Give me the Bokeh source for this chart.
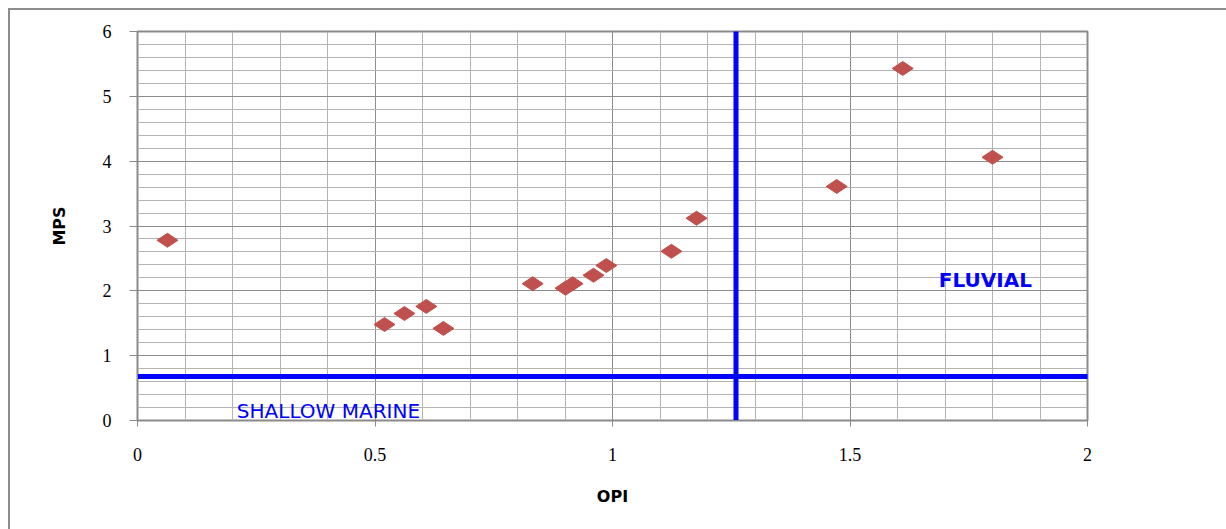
from bokeh.plotting import figure
from bokeh.models import SingleIntervalTicker, FixedTicker
from bokeh.core.properties import value
from bokeh.embed import file_html
from bokeh.resources import INLINE

# OPI / MPS samples
opi = [0.063, 0.52, 0.562, 0.608, 0.644, 0.832, 0.901, 0.916, 0.96, 0.987, 1.124, 1.177, 1.472, 1.611, 1.8]
mps = [2.78, 1.48, 1.65, 1.76, 1.42, 2.11, 2.04, 2.11, 2.24, 2.39, 2.61, 3.12, 3.61, 5.43, 4.06]

# environment boundaries
opi_boundary = 1.26
mps_boundary = 0.68

x_ticks = [0, 0.5, 1, 1.5, 2]
y_ticks = [0, 1, 2, 3, 4, 5, 6]

zone_labels = ["SHALLOW MARINE", "FLUVIAL"]
zone_x = [0.402, 1.785]
zone_y = [0.15, 2.17]

p = figure(width=1218, height=521, x_range=(0, 2), y_range=(0, 6),
           output_backend="svg", toolbar_location=None,
           min_border_left=127, min_border_right=141,
           min_border_top=21, min_border_bottom=111,
           margin=(8, 0, 0, 8))
p.styles = {"border-left": "2px solid #8c8c8c", "border-top": "2px solid #8c8c8c"}
p.background_fill_color = "white"
p.border_fill_color = "white"
p.outline_line_color = "#8a8a8a"
p.outline_line_width = 2

# grid: minor every 0.1 on x, every 0.2 on y
xt = SingleIntervalTicker(interval=0.5, num_minor_ticks=5)
yt = SingleIntervalTicker(interval=1, num_minor_ticks=5)
p.xgrid.ticker = xt
p.ygrid.ticker = yt
for g in (p.xgrid, p.ygrid):
    g.grid_line_color = "#8c8c8c"
    g.grid_line_width = 1
    g.minor_grid_line_color = "#b4b4b4"
    g.minor_grid_line_width = 1

for ax in (p.xaxis, p.yaxis):
    ax.axis_line_color = "#8a8a8a"
    ax.axis_line_width = 1
    ax.major_tick_line_color = "#8a8a8a"
    ax.minor_tick_line_color = None
    ax.major_tick_in = 0
    ax.major_label_text_font = "Liberation Serif"
    ax.major_label_text_font_size = "18px"
    ax.major_label_text_color = "black"
    ax.axis_label_text_font = "DejaVu Sans"
    ax.axis_label_text_font_style = "bold"
    ax.axis_label_text_color = "black"

p.xaxis.ticker = FixedTicker(ticks=x_ticks)
p.yaxis.ticker = FixedTicker(ticks=y_ticks)
p.xaxis.major_tick_out = 6
p.yaxis.major_tick_out = 8
p.xaxis.major_label_standoff = 21
p.yaxis.major_label_standoff = 18
p.xaxis.axis_label = "OPI"
p.yaxis.axis_label = "MPS"
p.xaxis.axis_label_text_font_size = "16px"
p.yaxis.axis_label_text_font_size = "16px"
p.xaxis.axis_label_standoff = 23
p.yaxis.axis_label_standoff = 31

# boundary lines
p.line([0, 2], [mps_boundary, mps_boundary], line_color="#0000ff", line_width=5, line_cap="round")
p.line([opi_boundary, opi_boundary], [0, 6], line_color="#0000ff", line_width=5, line_cap="round")

# samples
p.scatter(opi, mps, marker="diamond", size=21, angle=1.5708,
          fill_color="#c0504d", line_color="#c0504d", line_width=1)

# zone names
p.text([zone_x[0]], [zone_y[0]], text=[zone_labels[0]], text_align="center",
       text_baseline="middle", text_color="#0000ff",
       text_font=value("DejaVu Sans"), text_font_size="20px")
p.text([zone_x[1]], [zone_y[1]], text=[zone_labels[1]], text_align="center",
       text_baseline="middle", text_color="#0000ff", text_font_style="bold",
       text_font=value("DejaVu Sans"), text_font_size="20px")

open("out.html", "w").write(file_html(p, INLINE))
